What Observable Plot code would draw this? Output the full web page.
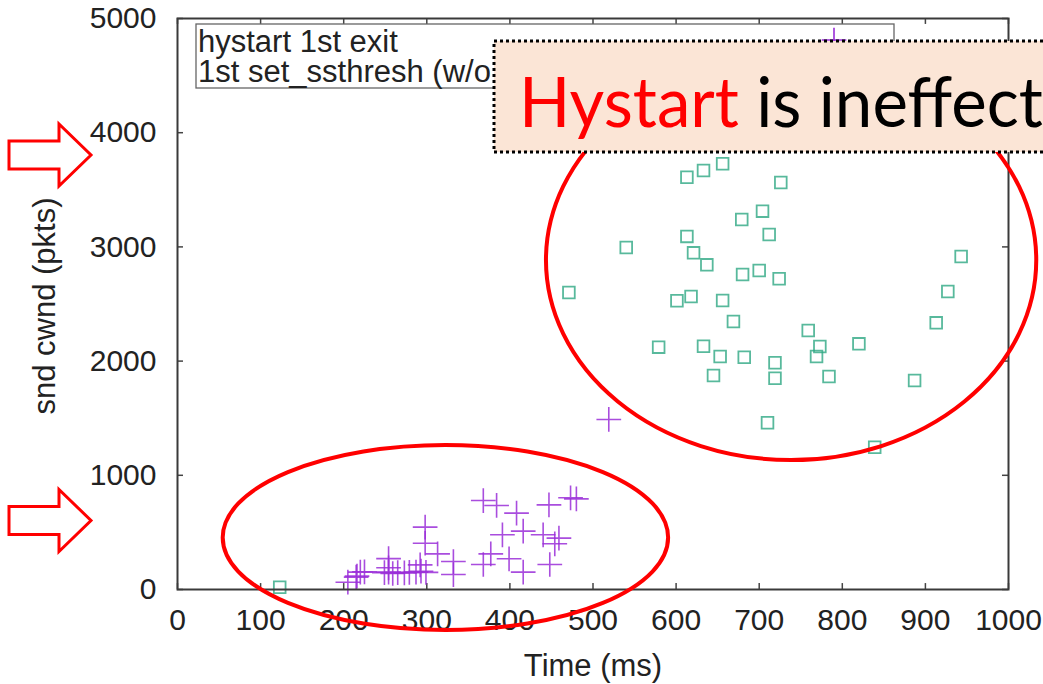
<!DOCTYPE html>
<html>
<head>
<meta charset="utf-8">
<script src="https://cdn.jsdelivr.net/npm/d3@7"></script>
<script src="https://cdn.jsdelivr.net/npm/@observablehq/plot@0.6"></script>
<style>
  html, body { margin: 0; padding: 0; background: #fff; }
  #chart { position: relative; width: 1043px; height: 684px; overflow: hidden; }
</style>
</head>
<body>
<div id="chart"></div>
<script>
// ---- data ----
const xTicks = [0, 100, 200, 300, 400, 500, 600, 700, 800, 900, 1000];
const yTicks = [0, 1000, 2000, 3000, 4000, 5000];

const seriesNames = ["hystart 1st exit", "1st set_ssthresh (w/o hystart)"];

// hystart 1st exit (purple +)
const hystartTime = [205, 215, 216, 220, 225, 249, 254, 254, 254, 259, 265, 273, 279, 287, 292, 293, 299,
  298, 298, 313, 332, 332, 368, 384, 408, 447, 473, 480, 391, 416, 440, 459, 454, 377, 368, 399, 416, 448, 519];
const hystartCwnd = [64, 108, 117, 152, 155, 148, 152, 190, 270, 140, 148, 145, 150, 152, 216, 160, 150,
  546, 405, 312, 245, 131, 779, 736, 669, 741, 803, 794, 479, 511, 479, 450, 400, 312, 219, 269, 152, 219, 1489];

// 1st set_ssthresh w/o hystart (green squares)
const ssTime = [613, 633, 656, 726, 704, 679, 712, 613, 540, 621, 637, 680, 700, 724, 471, 601, 618, 656,
  669, 579, 633, 653, 682, 645, 719, 719, 759, 773, 769, 820, 784, 710, 839, 943, 927, 913, 887, 123];
const ssCwnd = [3610, 3669, 3728, 3564, 3313, 3240, 3109, 3092, 2995, 2948, 2843, 2758, 2793, 2721, 2601, 2528, 2566, 2531,
  2347, 2122, 2130, 2040, 2034, 1874, 1985, 1850, 2268, 2128, 2040, 2151, 1865, 1460, 1246, 2916, 2609, 2335, 1830, 20];

// annotation values (data units)
const bigEllipse = {cx: 739, cy: 2880, rx: 295, ry: 1751};
const smallEllipse = {cx: 323, cy: 451, rx: 268, ry: 810};
const arrowLevels = [3800, 600];
const calloutRed = "Hystart";
const calloutBlack = " is ineffect";

const hystart = d3.zip(hystartTime, hystartCwnd).map(([t, c]) => ({t, c}));
const ss = d3.zip(ssTime, ssCwnd).map(([t, c]) => ({t, c}));

const purple = "#9a2ed8";
const green = "#2ea883";
const font = "'Liberation Sans', Arial, Helvetica, sans-serif";

const plot = Plot.plot({
  width: 1043,
  height: 684,
  marginLeft: 177,
  marginRight: 35,
  marginTop: 18,
  marginBottom: 95,
  style: {fontFamily: font, fontSize: "30px", color: "#222", background: "#fff"},
  x: {domain: [0, 1000], label: null},
  y: {domain: [0, 5000], label: null},
  marks: [
    // inward mirror ticks
    Plot.ruleX(xTicks, {x: d => d, y1: 0, y2: 52, stroke: "#444", strokeWidth: 1.5}),
    Plot.ruleX(xTicks, {x: d => d, y1: 5000, y2: 4948, stroke: "#444", strokeWidth: 1.5}),
    Plot.ruleY(yTicks, {y: d => d, x1: 0, x2: 7.2, stroke: "#444", strokeWidth: 1.5}),
    Plot.ruleY(yTicks, {y: d => d, x1: 1000, x2: 992.8, stroke: "#444", strokeWidth: 1.5}),
    Plot.axisX(xTicks, {tickSize: 0, tickPadding: 19, fill: "#222", tickFormat: d => String(d)}),
    Plot.axisY(yTicks, {tickSize: 0, tickPadding: 21, fill: "#222", tickFormat: d => String(d)}),
    Plot.dot(ss, {x: "t", y: "c", symbol: "square", r: 6.6, fill: "none", stroke: green, strokeWidth: 1.8, strokeOpacity: 0.8}),
    Plot.dot(hystart, {x: "t", y: "c", symbol: "plus", r: 8, stroke: purple, strokeWidth: 1.6, strokeOpacity: 0.85}),
    Plot.frame({stroke: "#3a3a3a", strokeWidth: 2}),
    Plot.text(["snd cwnd (pkts)"], {frameAnchor: "left", dx: -132, dy: 2, rotate: -90, textAnchor: "middle", lineAnchor: "middle", fill: "#222", fontSize: 31}),
    Plot.text(["Time (ms)"], {frameAnchor: "bottom", dy: 77, textAnchor: "middle", lineAnchor: "middle", fill: "#222", fontSize: 31})
  ]
});

document.getElementById("chart").appendChild(plot);

// ---- overlays: legend, ellipses, arrows, callout ----
const sx = plot.scale("x"), sy = plot.scale("y");
const svg = d3.select(plot);

// legend (gnuplot key)
const key = svg.append("g").attr("text-anchor", "start");
key.append("rect").attr("x", 196).attr("y", 24).attr("width", 698).attr("height", 64)
  .attr("fill", "none").attr("stroke", "#666").attr("stroke-width", 1.3);
key.append("text").attr("x", 198).attr("y", 52).attr("font-size", 31).attr("fill", "#222").attr("text-anchor", "start").text(seriesNames[0]);
key.append("text").attr("x", 198).attr("y", 82).attr("font-size", 31).attr("fill", "#222").attr("text-anchor", "start").text(seriesNames[1]);
key.append("path").attr("d", d3.symbol(d3.symbolPlus, 200)()).attr("transform", "translate(834,40)")
  .attr("fill", "none").attr("stroke", purple).attr("stroke-width", 1.6);
key.append("path").attr("d", d3.symbol(d3.symbolSquare, 137)()).attr("transform", "translate(834,70)")
  .attr("fill", "none").attr("stroke", green).attr("stroke-width", 1.8);

// red ellipses
const ell = svg.append("g").attr("fill", "none").attr("stroke", "#ff0000").attr("stroke-width", 4);
for (const e of [bigEllipse, smallEllipse]) {
  const cx = sx.apply(e.cx), cy = sy.apply(e.cy);
  const rx = sx.apply(e.cx + e.rx) - cx, ry = cy - sy.apply(e.cy + e.ry);
  ell.append("ellipse").attr("cx", cx).attr("cy", cy).attr("rx", rx).attr("ry", ry);
}

// block arrows at left
const arr = svg.append("g").attr("fill", "#fff").attr("stroke", "#ff0000").attr("stroke-width", 3).attr("stroke-linejoin", "miter");
for (const v of arrowLevels) {
  const ty = sy.apply(v);
  const pts = [[9, ty - 14], [59, ty - 14], [59, ty - 31], [91, ty], [59, ty + 31], [59, ty + 14], [9, ty + 14]];
  arr.append("polygon").attr("points", pts.map(p => p.join(",")).join(" "));
}

// callout box
const co = svg.append("g").attr("text-anchor", "start");
co.append("rect").attr("x", 494).attr("y", 41).attr("width", 600).attr("height", 111)
  .attr("fill", "#fbe5d6").attr("stroke", "#000").attr("stroke-width", 3).attr("stroke-dasharray", "3 3");
const ct = co.append("text").attr("x", 519).attr("y", 127).attr("text-anchor", "start")
  .attr("font-family", "Lato, 'Noto Sans', sans-serif").attr("font-size", 69)
  .attr("textLength", 524).attr("lengthAdjust", "spacingAndGlyphs");
ct.append("tspan").attr("fill", "#ff0000").text(calloutRed);
ct.append("tspan").attr("fill", "#000").text(calloutBlack);
</script>
</body>
</html>
